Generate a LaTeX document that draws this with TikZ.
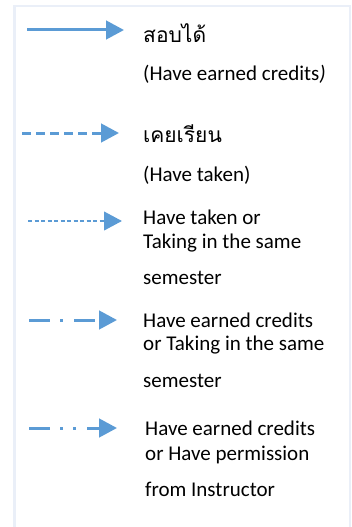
\documentclass[tikz,border=0pt]{standalone}
\usepackage{fontspec}
\setmainfont{Carlito}
\newfontfamily\thaifont[Script=Thai]{Loma}
\usetikzlibrary{arrows.meta, positioning}
\definecolor{legblue}{RGB}{91,155,213}
\definecolor{framegray}{RGB}{234,239,248}
\tikzset{
    legline/.style={
        draw=legblue,
        line width=3pt,
        -{Triangle[length=18pt,width=18.5pt]}
    },
    takenline/.style={
        legline,
        dash pattern=on 9pt off 5pt
    },
    takingline/.style={
        legline,
        line width=2.5pt,
        dash pattern=on 4pt off 2.5pt
    },
    dashdotline/.style={
        legline,
        dash pattern=on 21pt off 10pt on 3pt off 11pt
    },
    dashdotdotline/.style={
        legline,
        dash pattern=on 21pt off 10pt on 3pt off 10pt on 3pt off 11pt
    },
    legtext/.style={
        anchor=base west,
        inner sep=0pt,
        font=\fontsize{21}{25}\selectfont
    },
    legframe/.style={
        draw=framegray,
        line width=2.5pt
    }
}

\begin{document}
\begin{tikzpicture}[x=1pt, y=-1pt]

\useasboundingbox (0,0) rectangle (351,527);

% Frame, open at the bottom
\coordinate (fbl) at (14.5,527);
\coordinate (ftr) at (350,6);
\coordinate (fbr) at (350,527);
\draw[legframe] (fbl) |- (ftr) -- (fbr);

% Row 1: earned credits
\coordinate (s1) at (27,30);
\coordinate (e1) at (124,30);
\draw[legline] (s1) -- (e1);
\node[legtext] (lab1) at (143,42) {\thaifont สอบได้};
\node[legtext] (lab1en) at (143,80) {(Have earned credits\textit{)}};

% Row 2: taken
\coordinate (s2) at (22,133);
\coordinate (e2) at (119,133);
\draw[takenline] (s2) -- (e2);
\node[legtext] (lab2) at (143,142) {\thaifont เคยเรียน};
\node[legtext] (lab2en) at (143,181) {(Have taken)};

% Row 3: taken or taking
\coordinate (s3) at (28,221);
\coordinate (e3) at (122,221);
\draw[takingline] (s3) -- (e3);
\node[legtext] (lab3a) at (143,224) {Have taken or};
\node[legtext] (lab3b) at (143,248) {Taking in the same};
\node[legtext] (lab3c) at (143,284) {semester};

% Row 4: earned or taking
\coordinate (s4) at (29,320);
\coordinate (e4) at (117,320);
\draw[dashdotline] (s4) -- (e4);
\node[legtext] (lab4a) at (143,327) {Have earned credits};
\node[legtext] (lab4b) at (143,350) {or Taking in the same};
\node[legtext] (lab4c) at (143,387) {semester};

% Row 5: earned or permission
\coordinate (s5) at (29,428);
\coordinate (e5) at (117,428);
\draw[dashdotdotline] (s5) -- (e5);
\node[legtext] (lab5a) at (145,435) {Have earned credits};
\node[legtext] (lab5b) at (145,460) {or Have permission};
\node[legtext] (lab5c) at (145,496) {from Instructor};

\end{tikzpicture}
\end{document}
